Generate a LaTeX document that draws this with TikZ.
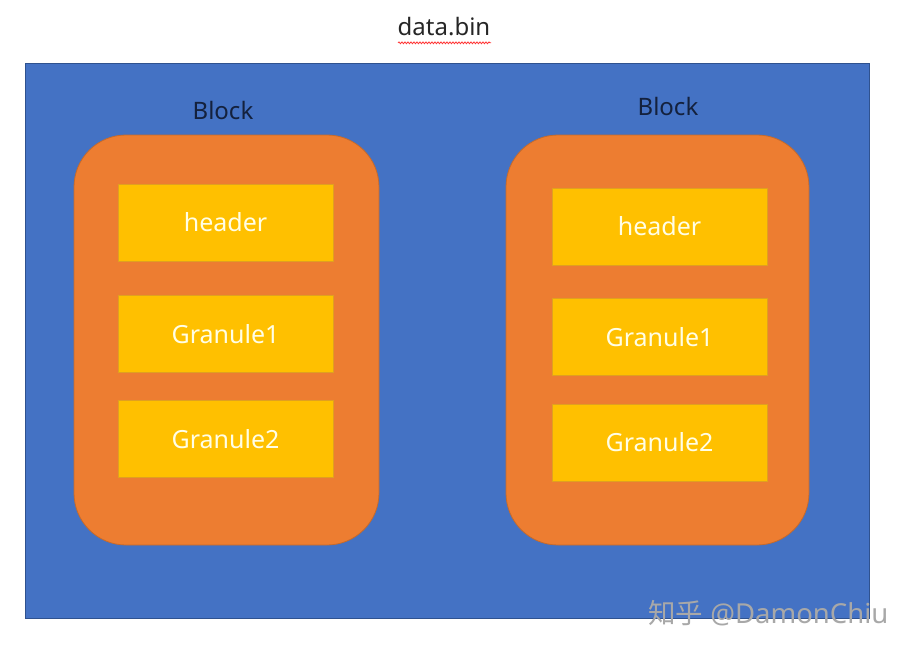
\documentclass[tikz,border=0pt]{standalone}
\usepackage{fontspec}
\setmainfont{Noto Sans}
\newfontfamily\cjk{Noto Sans CJK SC}
\usetikzlibrary{decorations.pathmorphing}
\definecolor{bgblue}{HTML}{4472C4}
\definecolor{bgblueedge}{HTML}{2F528F}
\definecolor{blkorange}{HTML}{ED7D31}
\definecolor{blkedge}{HTML}{C56A2C}
\definecolor{granyellow}{HTML}{FFC000}
\definecolor{granedge}{HTML}{E0A020}
\definecolor{navy}{HTML}{14213D}
\definecolor{wmgray}{HTML}{A8A8A8}
\tikzset{
  filebox/.style={draw=bgblueedge, line width=0.8pt, fill=bgblue},
  blockbox/.style={draw=blkedge, line width=0.8pt, fill=blkorange, rounded corners=52pt},
  granbox/.style={draw=granedge, line width=0.8pt, fill=granyellow, minimum width=215pt, minimum height=77pt, inner sep=0pt,
    text=white!90!yellow, font=\fontsize{25}{28}\selectfont},
  blocklabel/.style={text=navy, font=\fontsize{24}{28}\selectfont},
}
\begin{document}
\begin{tikzpicture}[x=1pt,y=-1pt]
\useasboundingbox (0,0) rectangle (903,645);
\fill[white] (0,0) rectangle (903,645);
\node[font=\fontsize{24}{28}\selectfont, text=black!85] (title) at (444,27) {data.bin};
\draw[red!80, line width=0.8pt, decorate, decoration={snake, amplitude=0.9pt, segment length=3pt}]
  ([yshift=-3pt]title.south west -| 398,0) -- ([yshift=-3pt]title.south east -| 491,0);
\draw[filebox] (25,63) rectangle (869,618);
% left block
\node[blocklabel] (lbl) at (223,110) {Block};
\draw[blockbox] (74,135) rectangle (379,545);
\node[granbox] (lh) at (225.5,222.5) {header};
\node[granbox] (lg1) at (225.5,334) {Granule1};
\node[granbox] (lg2) at (225.5,439) {Granule2};
% right block
\node[blocklabel] (rbl) at (668,106) {Block};
\draw[blockbox] (506,135) rectangle (809,545);
\node[granbox] (rh) at (659.5,226.5) {header};
\node[granbox] (rg1) at (659.5,337) {Granule1};
\node[granbox] (rg2) at (659.5,442.5) {Granule2};
% watermark
\node[anchor=west, text=wmgray, font=\fontsize{27.5}{30}\selectfont, inner sep=0pt] (wm) at (648,613) {{\cjk 知乎} @DamonChiu};
\end{tikzpicture}
\end{document}
